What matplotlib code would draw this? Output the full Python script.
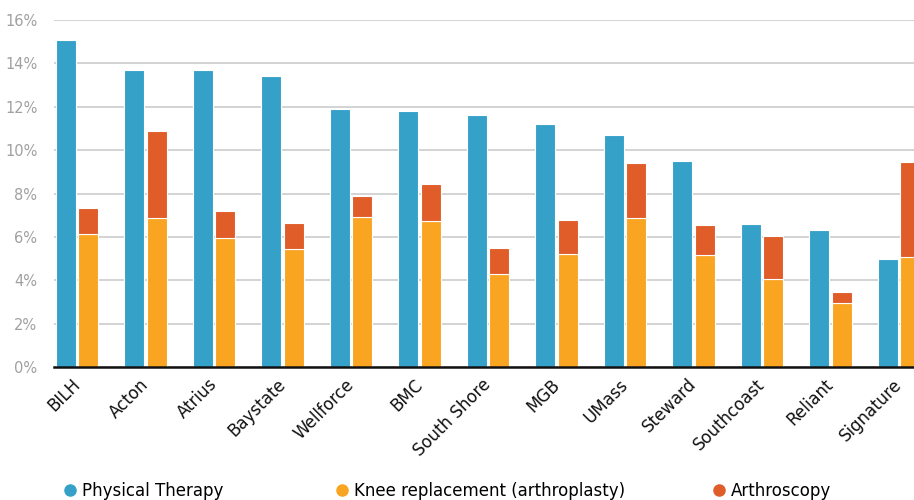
import numpy as np
import matplotlib
matplotlib.use("Agg")
import matplotlib.pyplot as plt
import matplotlib.transforms as mtransforms
from matplotlib.lines import Line2D
from matplotlib.ticker import FuncFormatter

# values (percent)
orgs = ["BILH", "Acton", "Atrius", "Baystate", "Wellforce", "BMC", "South Shore",
        "MGB", "UMass", "Steward", "Southcoast", "Reliant", "Signature"]
physical_therapy = [15.1, 13.7, 13.7, 13.4, 11.9, 11.8, 11.6, 11.2, 10.7, 9.5, 6.6, 6.3, 5.0]
knee_replacement = [6.15, 6.85, 5.95, 5.45, 6.9, 6.75, 4.3, 5.2, 6.85, 5.15, 4.05, 2.95, 5.05]
arthroscopy = [1.2, 4.05, 1.25, 1.2, 1.0, 1.7, 1.2, 1.6, 2.55, 1.4, 2.0, 0.5, 4.4]

blue = "#35a0c8"
orange = "#f9a521"
red = "#e05c29"

fig = plt.figure(figsize=(9.14, 5), dpi=100)
ax = fig.add_axes([54 / 914, 1 - 367 / 500, 1 - 54 / 914, (367 - 20) / 500])

x = np.arange(len(orgs))
w = 0.29
off = 0.165
ax.bar(x - off, physical_therapy, w, color=blue, edgecolor="white", linewidth=0.8, zorder=3)
ax.bar(x + off, knee_replacement, w, color=orange, edgecolor="white", linewidth=0.8, zorder=3)
ax.bar(x + off, arthroscopy, w, bottom=knee_replacement, color=red, edgecolor="white",
       linewidth=0.8, zorder=3)

ax.set_ylim(0, 16)
ax.set_xlim(-0.336, 12.22)
ax.set_yticks(np.arange(0, 17, 2))
ax.yaxis.set_major_formatter(FuncFormatter(lambda v, p: f"{v:.0f}%"))
ax.grid(axis="y", color="#cccccc", linewidth=1.2, zorder=0)
for s in ["left", "right", "top"]:
    ax.spines[s].set_visible(False)
ax.spines["bottom"].set_color("#111111")
ax.spines["bottom"].set_linewidth(1.8)
ax.spines["bottom"].set_zorder(4)
ax.tick_params(axis="y", length=0, colors="#a0a0a0", labelsize=10.5, pad=12)
ax.tick_params(axis="x", length=0, pad=6)
ax.set_xticks(x)
ax.set_xticklabels(orgs, rotation=45, ha="right", rotation_mode="anchor", fontsize=12,
                   color="#111111")
shift = mtransforms.ScaledTranslation(-6 / 100, 0, fig.dpi_scale_trans)
for lab in ax.get_xticklabels():
    lab.set_transform(lab.get_transform() + shift)

names = ["Physical Therapy", "Knee replacement (arthroplasty)", "Arthroscopy"]
colors = [blue, orange, red]
xs = [60 / 914, 332 / 914, 709 / 914]
for name, c, xp in zip(names, colors, xs):
    h = Line2D([], [], marker="o", linestyle="", markersize=8, color=c)
    fig.legend([h], [name], loc="center left", bbox_to_anchor=(xp, 1 - 491 / 500),
               frameon=False, fontsize=12, handletextpad=0.1, handlelength=1.2,
               borderaxespad=0, borderpad=0)

fig.savefig("out.png", dpi=100)
